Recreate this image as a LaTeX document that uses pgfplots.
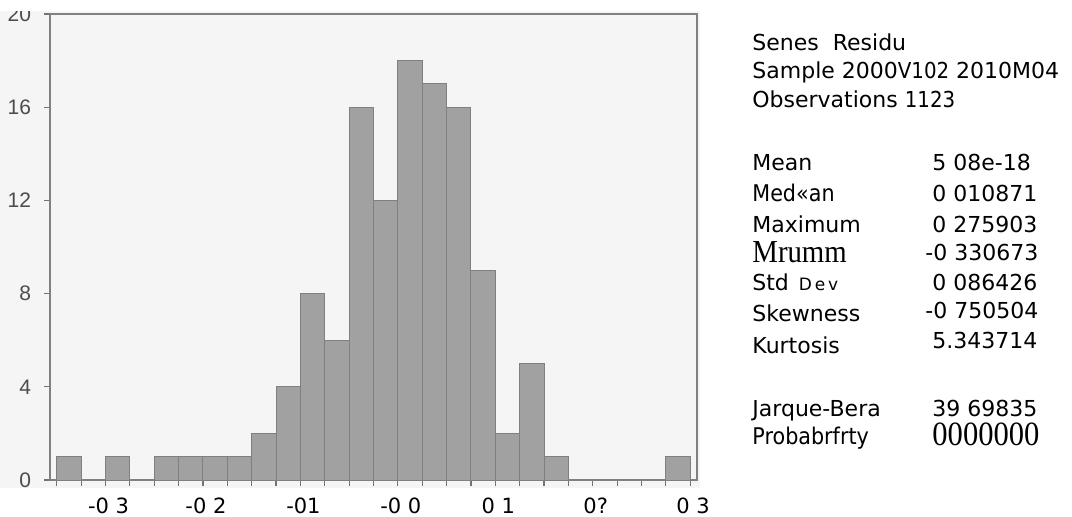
\documentclass[border=0pt]{standalone}
\usepackage{fontspec}
\setmainfont{DejaVu Sans}
\newfontfamily\arial{Liberation Sans}
\newfontfamily\cond[FakeStretch=0.9]{DejaVu Sans}
\newfontfamily\tms{Liberation Serif}
\newfontfamily\tmsc[FakeStretch=0.9]{Liberation Serif}
\usepackage{pgfplots}
\pgfplotsset{compat=1.18}
\pgfplotstableread{
x y
-0.350 1
-0.325 0
-0.300 1
-0.275 0
-0.250 1
-0.225 1
-0.200 1
-0.175 1
-0.150 2
-0.125 4
-0.100 8
-0.075 6
-0.050 16
-0.025 12
0.000 18
0.025 17
0.050 16
0.075 9
0.100 2
0.125 5
0.150 1
0.175 0
0.200 0
0.225 0
0.250 0
0.275 1
0.300 1
}\histdata
\begin{document}
\begin{tikzpicture}
\path[use as bounding box] (-25pt,-18pt) rectangle (511pt,240pt);
\clip (-25pt,-18pt) rectangle (511pt,234.5pt);
\fill[black!4] (-25pt,-4pt) rectangle (325pt,234.5pt);
\begin{axis}[
  scale only axis,
  width=323.5pt, height=233pt,
  xmin=-0.357, xmax=0.307,
  ymin=0, ymax=20,
  axis line style={black!50, line width=0.8pt},
  tick align=outside,
  xtick pos=bottom, ytick pos=left,
  tick style={black!55, line width=0.6pt},
  major tick length=3pt,
  minor tick length=3pt,
  /pgf/number format/assume math mode=true,
  ytick={0,4,8,12,16,20},
  yticklabel style={font=\arial\fontsize{10.5}{12}\selectfont, text=black!70, xshift=-3pt},
  xtick={-0.3,-0.2,-0.1,0,0.1,0.2,0.3},
  xticklabels={-0 3,-0 2,-01,-0 0,0 1,0?,0 3},
  minor xtick={-0.35,-0.325,...,0.3},
  xticklabel style={font=\fontsize{10.5}{12}\selectfont, text=black, anchor=base, yshift=-13.8pt, xshift=1.5pt, inner sep=0pt},
  clip=false,
]
\addplot[ybar interval, fill=black!37, draw=black!50, line width=0.5pt] table[x=x, y=y] {\histdata};
\end{axis}
\begin{scope}[every node/.style={anchor=base west, inner sep=0pt, font=\fontsize{11}{13}\selectfont}]
\node at (351pt,215pt) {Senes\hspace{7pt}Residu};
\node at (351pt,201pt) {Sample 2000{\cond V102} 2010M04};
\node at (351pt,186.5pt) {Observations {\cond 1123}};
\node at (351pt,155pt) {Mean};
\node[font=\cond\fontsize{11.5}{13}\selectfont] at (351pt,139.5pt) {Med«an};
\node at (351pt,124pt) {Maximum};
\node[font=\tmsc\fontsize{16}{17}\selectfont] at (351pt,109pt) {Mrumm};
\node at (351pt,95pt) {Std\hspace{5pt}{\fontsize{8.5}{10}\selectfont D\,e\,v}};
\node at (351pt,79.5pt) {Skewness};
\node at (351pt,63.5pt) {Kurtosis};
\node at (351pt,32pt) {Jarque-Bera};
\node[font=\cond\fontsize{11.5}{13}\selectfont] at (351pt,18pt) {Probabrfrty};
\node at (441pt,155pt) {5 08e-18};
\node at (441pt,139.5pt) {0 010871};
\node at (441pt,124pt) {0 275903};
\node at (437.5pt,110pt) {-0 330673};
\node at (441pt,95pt) {0 086426};
\node at (437.5pt,81pt) {-0 750504};
\node at (441pt,66pt) {5.343714};
\node at (441pt,32pt) {39 69835};
\node[font=\tmsc\fontsize{17}{18}\selectfont] at (441pt,17.5pt) {0000000};
\end{scope}
\end{tikzpicture}
\end{document}
